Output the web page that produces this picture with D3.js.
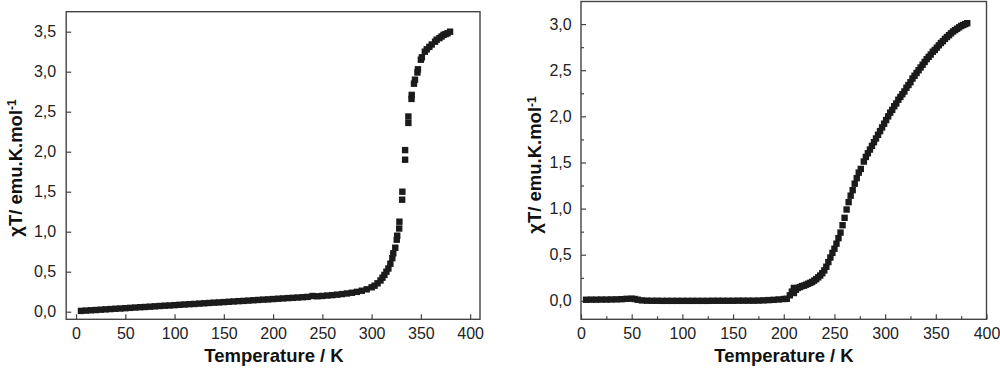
<!DOCTYPE html>
<html>
<head>
<meta charset="utf-8">
<script src="https://cdn.jsdelivr.net/npm/d3@7"></script>
<style>
    body { margin: 0; background: #fff; }
    svg { display: block; font-family: "Liberation Sans", Arial, sans-serif; }
</style>
</head>
<body>
<div id="chart"></div>
<script>
// chi*T versus temperature, two samples side by side //

// left sample: temperature (K) and chi*T values
var leftTemp = [5, 10, 15, 20, 25, 30, 35, 40, 45, 50, 55, 60, 65, 70, 75, 80, 85, 90, 95, 100,
    105, 110, 115, 120, 125, 130, 135, 140, 145, 150, 155, 160, 165, 170, 175, 180, 185, 190, 195, 200,
    205, 210, 215, 220, 225, 230, 235, 240, 245, 250, 255, 260, 265, 270, 275, 280, 285, 290, 295, 300,
    303, 306, 309, 311, 313, 315, 317, 319, 321, 322, 324, 325.5, 326, 328, 328.2, 331, 331.2, 334, 334,
    337.3, 337.3, 340.5, 340.7, 343, 344, 346.5, 347, 350, 351, 354, 356, 358.6, 361, 364.4, 366, 368.8,
    371, 373, 375, 377, 379.6];
var leftChiT = [0.010, 0.014, 0.018, 0.021, 0.025, 0.029, 0.033, 0.037, 0.040, 0.044, 0.048, 0.052, 0.056, 0.059, 0.063, 0.067, 0.071, 0.075, 0.078, 0.082,
    0.086, 0.090, 0.094, 0.097, 0.101, 0.105, 0.109, 0.113, 0.116, 0.120, 0.124, 0.128, 0.132, 0.135, 0.139, 0.143, 0.147, 0.151, 0.154, 0.158,
    0.162, 0.166, 0.170, 0.173, 0.177, 0.181, 0.185, 0.196, 0.193, 0.197, 0.202, 0.207, 0.213, 0.220, 0.228, 0.237, 0.248, 0.262, 0.280, 0.305,
    0.325, 0.355, 0.39, 0.425, 0.46, 0.50, 0.54, 0.60, 0.67, 0.73, 0.80, 0.90, 0.95, 1.04, 1.125, 1.40, 1.50, 1.90, 2.02,
    2.36, 2.44, 2.66, 2.71, 2.85, 2.90, 2.99, 3.03, 3.15, 3.18, 3.25, 3.28, 3.31, 3.34, 3.375, 3.40, 3.42,
    3.44, 3.46, 3.47, 3.48, 3.50];

// right sample
var rightTemp = [5, 10, 15, 20, 25, 30, 35, 40, 45, 50, 53, 56, 60, 65, 70, 75, 80, 85, 90, 95,
    100, 105, 110, 115, 120, 125, 130, 135, 140, 145, 150, 155, 160, 165, 170, 175, 180, 185, 190, 195,
    200, 203, 206, 208, 210, 210, 212, 214, 216, 218, 220, 222, 224, 226, 228, 230, 232, 234, 236, 238,
    240, 242, 244, 246, 248, 250, 252, 254, 256, 258, 260, 262, 264, 266, 268, 270, 272, 274, 276, 279,
    281, 283, 285, 287, 289, 291, 293, 295, 297, 299, 301, 303, 305, 307, 309, 311, 313, 315, 317, 319,
    321, 323, 325, 327, 329, 331, 333, 335, 337, 339, 341, 343, 345, 347, 349, 351, 353, 355, 357, 359,
    361, 363, 365, 367, 369, 371, 373, 375, 377, 379, 381];
var rightChiT = [0.012, 0.013, 0.013, 0.014, 0.014, 0.015, 0.016, 0.018, 0.022, 0.024, 0.020, 0.012, 0.005, 0.002, 0.001, 0.001, 0.0, 0.0, 0.0, 0.0,
    0.0, 0.0, 0.0, 0.0, 0.0, 0.0, 0.001, 0.001, 0.001, 0.001, 0.001, 0.002, 0.002, 0.002, 0.002, 0.003, 0.005, 0.008, 0.011, 0.015,
    0.020, 0.022, 0.06, 0.10, 0.085, 0.14, 0.12, 0.14, 0.15, 0.16, 0.165, 0.175, 0.185, 0.195, 0.205, 0.22, 0.235, 0.255, 0.275, 0.30,
    0.33, 0.37, 0.42, 0.47, 0.52, 0.565, 0.62, 0.68, 0.74, 0.82, 0.90, 0.99, 1.07, 1.14, 1.20, 1.27, 1.33, 1.39, 1.43, 1.51,
    1.56, 1.60, 1.64, 1.68, 1.72, 1.76, 1.80, 1.84, 1.88, 1.92, 1.96, 2.00, 2.04, 2.07, 2.11, 2.14, 2.18, 2.21, 2.24, 2.27,
    2.31, 2.34, 2.37, 2.41, 2.44, 2.47, 2.50, 2.53, 2.56, 2.59, 2.62, 2.645, 2.67, 2.70, 2.72, 2.745, 2.77, 2.795, 2.815, 2.84,
    2.86, 2.88, 2.90, 2.92, 2.935, 2.95, 2.965, 2.98, 2.99, 3.00, 3.01];

// tick values
var tempTicks = [0, 50, 100, 150, 200, 250, 300, 350, 400];
var tempMinorTicks = [25, 75, 125, 175, 225, 275, 325, 375];
var leftChiTicks = [0, 0.5, 1.0, 1.5, 2.0, 2.5, 3.0, 3.5];
var rightChiTicks = [0, 0.5, 1.0, 1.5, 2.0, 2.5, 3.0];
var rightChiMinorTicks = [-0.25, 0.25, 0.75, 1.25, 1.75, 2.25, 2.75, 3.25];

var xTitle = "Temperature / K";

var svg = d3.select("#chart")
        .append("svg")
        .attr("width", 1000)
        .attr("height", 371);

// comma as decimal separator
var commaFmt = function(d){ return d3.format(".1f")(d).replace(".", ","); };

// draw one panel
    function makePanel(p){
        var x = d3.scaleLinear().domain(p.xDomain).range([p.left, p.right]);
        var y = d3.scaleLinear().domain(p.yDomain).range([p.bottom, p.top]);

        var g = svg.append("g");

        // minor ticks first
        if (p.xMinor) {
            g.append("g")
                .attr("transform", "translate(0," + p.bottom + ")")
                .call(d3.axisBottom(x).tickValues(p.xMinor).tickSize(-3).tickFormat(""))
                .call(function(a){ a.select(".domain").remove(); });
        }
        if (p.yMinor) {
            g.append("g")
                .attr("transform", "translate(" + p.left + ",0)")
                .call(d3.axisLeft(y).tickValues(p.yMinor.filter(function(v){ return v > p.yDomain[0] && v < p.yDomain[1]; }))
                    .tickSize(-3).tickFormat(""))
                .call(function(a){ a.select(".domain").remove(); });
        }

        var xAxis = g.append("g")
                .attr("transform", "translate(0," + p.bottom + ")")
                .call(d3.axisBottom(x).tickValues(tempTicks).tickSize(-5).tickPadding(8));
        var yAxis = g.append("g")
                .attr("transform", "translate(" + p.left + ",0)")
                .call(d3.axisLeft(y).tickValues(p.yTicks).tickSize(-5).tickPadding(p.yPad).tickFormat(commaFmt));

        [xAxis, yAxis].forEach(function(a){
            a.select(".domain").remove();
            a.selectAll("text").style("font-size", "16px").style("fill", "#222").style("font-family", "'Liberation Sans', Arial, sans-serif");
        });
        g.selectAll(".tick line").attr("stroke", "#444").attr("stroke-width", 1.2);

        // frame
        g.append("rect")
            .attr("x", p.left)
            .attr("y", p.top)
            .attr("width", p.right - p.left)
            .attr("height", p.bottom - p.top)
            .attr("fill", "none")
            .attr("stroke", "#444")
            .attr("stroke-width", 1.4);

        // square markers
        var pts = p.temp.map(function(t, i){ return {t: t, v: p.chi[i]}; });
        g.append("g")
            .selectAll("rect")
            .data(pts)
            .enter()
            .append("rect")
            .attr("x", function(d){ return x(d.t) - 3.2; })
            .attr("y", function(d){ return y(d.v) - 3.2; })
            .attr("width", 6.4)
            .attr("height", 6.4)
            .attr("fill", "#1b1b1b");

        // axis titles
        g.append("text")
            .attr("x", p.xTitleX)
            .attr("y", 362)
            .attr("text-anchor", "middle")
            .style("font-size", "18.5px")
            .style("font-weight", "bold")
            .style("fill", "#111")
            .text(xTitle);

        var yt = g.append("text")
            .attr("transform", "translate(" + p.yTitleX + "," + p.yTitleY + ") rotate(-90)")
            .attr("text-anchor", "middle")
            .style("font-size", "18.5px")
            .style("font-weight", "bold")
            .style("fill", "#111");
        yt.append("tspan").text("χT/ emu.K.mol");
        yt.append("tspan").attr("dy", "-0.45em").style("font-size", "12px").text("-1");
    }

makePanel({
    temp: leftTemp, chi: leftChiT,
    xDomain: [-10, 410], yDomain: [-0.095, 3.75],
    left: 66.2, right: 480, top: 11.7, bottom: 319.3,
    yTicks: leftChiTicks, yPad: 10,
    xTitleX: 274, yTitleX: 21.5, yTitleY: 168
});

makePanel({
    temp: rightTemp, chi: rightChiT,
    xDomain: [0, 400], yDomain: [-0.2, 3.245],
    left: 581, right: 986.5, top: 1.5, bottom: 319.3,
    yTicks: rightChiTicks, yPad: 9.3,
    xMinor: tempMinorTicks, yMinor: rightChiMinorTicks,
    xTitleX: 784, yTitleX: 541, yTitleY: 165
});
</script>
</body>
</html>
